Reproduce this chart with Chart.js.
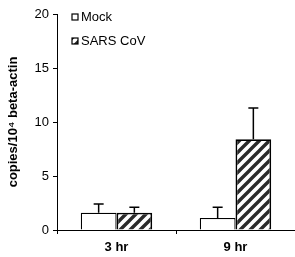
<!DOCTYPE html>
<html>
<head>
<meta charset="utf-8">
<script src="https://cdn.jsdelivr.net/npm/chart.js@4"></script>
<style>
  html, body { margin: 0; padding: 0; background: #fff; }
  #wrap { width: 295px; height: 257px; }
</style>
</head>
<body>
<div id="wrap"><canvas id="chart" width="295" height="257"></canvas></div>
<script>
// Data
const timepoints = ['3 hr', '9 hr'];
const mockValues = [1.6, 1.1];
const mockErrors = [0.8, 1.0];
const sarsValues = [1.6, 8.4];
const sarsErrors = [0.5, 2.9];
const yTicks = [0, 5, 10, 15, 20];

// diagonal hatch for the SARS CoV bars
function makeHatch() {
  const c = document.createElement('canvas');
  c.width = 10; c.height = 10;
  const g = c.getContext('2d');
  g.fillStyle = '#fff';
  g.fillRect(0, 0, 10, 10);
  g.strokeStyle = '#2a2a2a';
  g.lineWidth = 3.4;
  g.beginPath();
  g.moveTo(-2, 12); g.lineTo(12, -2);
  g.moveTo(-7, 7); g.lineTo(7, -7);
  g.moveTo(3, 17); g.lineTo(17, 3);
  g.stroke();
  return g.createPattern(c, 'repeat');
}
const hatch = makeHatch();

// upward-only error bars with a cap
const errorBars = {
  id: 'errorBars',
  afterDatasetsDraw(chart) {
    const ctx = chart.ctx;
    const y = chart.scales.y;
    const errs = [mockErrors, sarsErrors];
    ctx.save();
    ctx.strokeStyle = '#000';
    ctx.lineWidth = 1.5;
    chart.data.datasets.forEach((ds, i) => {
      chart.getDatasetMeta(i).data.forEach((bar, j) => {
        const top = y.getPixelForValue(ds.data[j]);
        const tip = y.getPixelForValue(ds.data[j] + errs[i][j]);
        ctx.beginPath();
        ctx.moveTo(bar.x, top);
        ctx.lineTo(bar.x, tip);
        ctx.moveTo(bar.x - 5, tip);
        ctx.lineTo(bar.x + 5, tip);
        ctx.stroke();
      });
    });
    ctx.restore();
  }
};

// legend inside the plot, top left
const insideLegend = {
  id: 'insideLegend',
  afterDraw(chart) {
    const ctx = chart.ctx;
    ctx.save();
    ctx.font = '13px "Liberation Sans", Arial, sans-serif';
    ctx.textBaseline = 'middle';
    chart.data.datasets.forEach((ds, i) => {
      const cy = 17 + i * 24;
      ctx.fillStyle = ds.backgroundColor;
      ctx.fillRect(72, cy - 3, 6, 6);
      ctx.strokeStyle = '#000';
      ctx.lineWidth = 1.2;
      ctx.strokeRect(72, cy - 3, 6, 6);
      ctx.fillStyle = '#000';
      ctx.fillText(ds.label, 81, cy + 0.5);
    });
    ctx.restore();
  }
};

new Chart(document.getElementById('chart'), {
  type: 'bar',
  data: {
    labels: timepoints,
    datasets: [
      { label: 'Mock', data: mockValues, backgroundColor: '#fff', borderColor: '#000', borderWidth: 1.2 },
      { label: 'SARS CoV', data: sarsValues, backgroundColor: hatch, borderColor: '#000', borderWidth: 1.8 }
    ]
  },
  options: {
    responsive: false,
    animation: false,
    layout: { padding: { top: 14, right: 0, left: 0, bottom: 0 } },
    categoryPercentage: 0.6,
    barPercentage: 1.0,
    plugins: { legend: { display: false }, tooltip: { enabled: false } },
    scales: {
      x: {
        offset: true,
        grid: { offset: true, drawOnChartArea: false, tickLength: 4, color: '#000' },
        border: { color: '#000', width: 1 },
        ticks: { color: '#000', padding: 6, font: { family: '"Liberation Sans", Arial', size: 13, weight: 'bold' } },
        afterFit(s) { s.height = 27; }
      },
      y: {
        min: 0, max: 20,
        afterBuildTicks(s) { s.ticks = yTicks.map(v => ({ value: v })); },
        grid: { drawOnChartArea: false, tickLength: 4, color: '#000' },
        border: { color: '#000', width: 1 },
        ticks: { color: '#000', padding: 4, font: { family: '"Liberation Sans", Arial', size: 13 } },
        title: {
          display: true,
          text: 'copies/10\u2074 beta-actin',
          color: '#000',
          padding: { top: 6, bottom: 0 },
          font: { family: '"Liberation Sans", Arial', size: 13, weight: 'bold' }
        },
        afterFit(s) { s.width = 57; }
      }
    }
  },
  plugins: [errorBars, insideLegend]
});
</script>
</body>
</html>
